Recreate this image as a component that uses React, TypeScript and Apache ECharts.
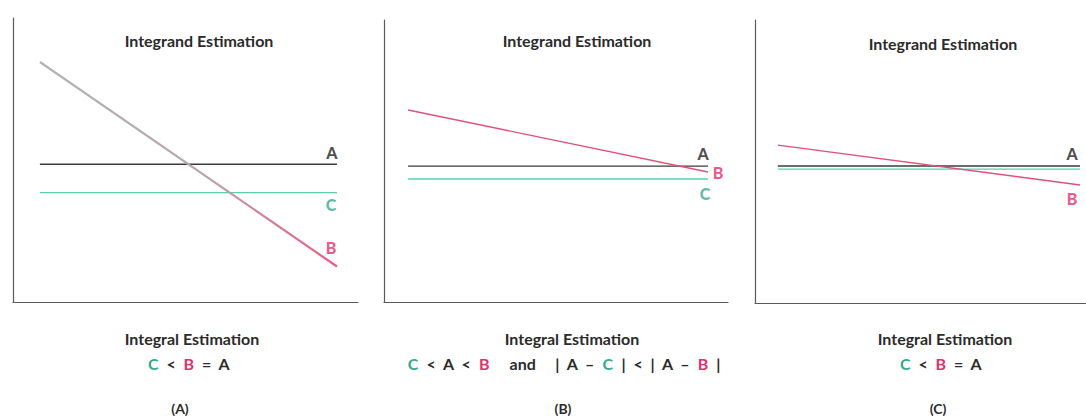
import React, { useEffect, useRef } from "react";
import * as echarts from "echarts";

// Three panels, each comparing estimators A, B and C of an integrand.
const panelCaptions = ["(A)", "(B)", "(C)"];
const panelTitle = "Integrand Estimation";
const summaryTitle = "Integral Estimation";
const curveNames = ["A", "B", "C"];

// x-extent of the plotted estimators in each panel
const xStart = [0.78, 0.7, 0.69];
const xEnd = [9.39, 9.42, 9.82];

// estimator levels (y) per panel
const estimateA = [4.85, 4.82, 4.84];
const estimateC = [3.85, 4.36, 4.73];
const estimateBStart = [8.45, 6.81, 5.58];
const estimateBEnd = [1.25, 4.61, 4.17];

// whether each panel labels curve C at its right end
const showLabelC = [true, true, false];

// integral comparison statements, as rich-text tokens
const summaryLines = [
  "{g|C}  <  {p|B}  =  A",
  "{g|C}  <  A  <  {p|B}     and     |  A  –  {g|C}  |  <  |  A  –  {p|B}  |",
  "{g|C}  <  {p|B}  =  A",
];

const COLOR_A = "#3b3b3b";
const COLOR_C = "#55d2ad";
const COLOR_B = "#e0507a";
const LABEL_C = "#34a98b";
const LABEL_B = "#e0306a";
const TEXT = "#2b2b2b";
const FONT = "Lato, 'Open Sans', sans-serif";
const FS = 16;

const grids = [
  { left: 13, top: 18, width: 345, height: 284 },
  { left: 384, top: 20, width: 344, height: 282 },
  { left: 755, top: 20, width: 331, height: 283 },
];

const titlePos = [
  [199, 40],
  [577, 40],
  [943, 43],
];
const summaryX = [192, 572, 945];
const statementX = [189, 564, 941];
const captionX = [180, 563, 938];

// label offsets (px) from each curve's right end
const labelOffsets = [
  { A: [-5, -12], B: [-6, -19], C: [-6, 12] },
  { A: [-5, -13], B: [10, 1], C: [-3, 14] },
  { A: [-8, -13], B: [-8, 14], C: [0, 0] },
];

export default function App() {
  const ref = useRef<HTMLDivElement>(null);

  useEffect(() => {
    if (!ref.current) return;
    const chart = echarts.init(ref.current, undefined, { renderer: "svg" });

    const axisLine = { show: true, lineStyle: { color: "#5a5a5a", width: 1.2 } };
    const makeAxis = (i: number) => ({
      type: "value" as const,
      gridIndex: i,
      min: 0,
      max: 10,
      axisLine,
      axisTick: { show: false },
      axisLabel: { show: false },
      splitLine: { show: false },
    });
    const xAxes = grids.map((_, i) => makeAxis(i));
    const yAxes = grids.map((_, i) => makeAxis(i));

    const series: any[] = [];
    grids.forEach((_, i) => {
      const common = {
        type: "line",
        xAxisIndex: i,
        yAxisIndex: i,
        symbol: "none",
        silent: true,
      };
      series.push({
        ...common,
        name: `${curveNames[0]}-${i}`,
        data: [
          [xStart[i], estimateA[i]],
          [xEnd[i], estimateA[i]],
        ],
        lineStyle: { color: COLOR_A, width: 1.4 },
      });
      series.push({
        ...common,
        name: `${curveNames[2]}-${i}`,
        data: [
          [xStart[i], estimateC[i]],
          [xEnd[i], estimateC[i]],
        ],
        lineStyle: { color: COLOR_C, width: 1.4 },
      });
      const bColor =
        i === 0
          ? new echarts.graphic.LinearGradient(0, 0, 1, 0, [
              { offset: 0, color: "#b4b4b4" },
              { offset: 0.55, color: "#b7a4aa" },
              { offset: 1, color: "#ec5c84" },
            ])
          : COLOR_B;
      series.push({
        ...common,
        name: `${curveNames[1]}-${i}`,
        data: [
          [xStart[i], estimateBStart[i]],
          [xEnd[i], estimateBEnd[i]],
        ],
        lineStyle: { color: bColor, width: i === 0 ? 2.2 : 1.4 },
      });

      const off = labelOffsets[i];
      const lbl = (text: string, color: string, offset: number[]) => ({
        formatter: text,
        color,
        offset,
      });
      const labels: any[] = [
        { value: [xEnd[i], estimateA[i]], label: lbl("A", "#1e1e1e", off.A) },
        { value: [xEnd[i], estimateBEnd[i]], label: lbl("B", LABEL_B, off.B) },
      ];
      if (showLabelC[i]) {
        labels.push({
          value: [xEnd[i], estimateC[i]],
          label: lbl("C", LABEL_C, off.C),
        });
      }
      series.push({
        type: "scatter",
        xAxisIndex: i,
        yAxisIndex: i,
        symbolSize: 1,
        silent: true,
        itemStyle: { color: "rgba(0,0,0,0)" },
        label: {
          show: true,
          position: "inside",
          fontFamily: FONT,
          fontWeight: 900,
          fontSize: 16,
        },
        data: labels,
      });
    });

    const rich = {
      g: { fill: LABEL_C, font: `bold ${FS}px ${FONT}` },
      p: { fill: LABEL_B, font: `bold ${FS}px ${FONT}` },
    };

    const textEl = (x: number, y: number, text: string, size: number, extra: any = {}) => ({
      type: "text",
      x,
      y,
      silent: true,
      style: {
        text,
        fill: TEXT,
        font: `bold ${size}px ${FONT}`,
        align: "center",
        verticalAlign: "middle",
        ...extra,
      },
    });

    const graphic: any[] = [];
    grids.forEach((_, i) => {
      graphic.push(textEl(titlePos[i][0], titlePos[i][1], panelTitle, FS));
      graphic.push(textEl(summaryX[i], 338, summaryTitle, FS));
      graphic.push(textEl(statementX[i], 363, summaryLines[i], FS, { rich }));
      graphic.push(textEl(captionX[i], 408, panelCaptions[i], 14));
    });

    chart.setOption({
      animation: false,
      backgroundColor: "#ffffff",
      grid: grids,
      xAxis: xAxes,
      yAxis: yAxes,
      series,
      graphic,
    });

    return () => chart.dispose();
  }, []);

  return (
    <div
      ref={ref}
      style={{ position: "fixed", left: 0, top: 0, width: 1086, height: 418 }}
    />
  );
}
